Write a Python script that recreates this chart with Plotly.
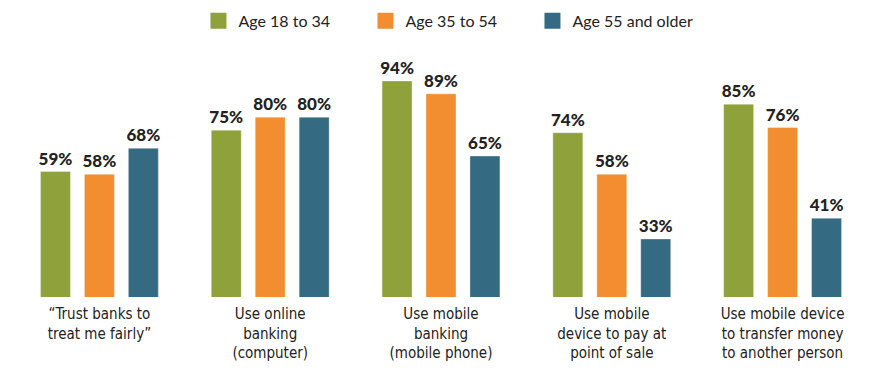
import plotly.graph_objects as go

categories = [
    "\u201cTrust banks to<br>treat me fairly\u201d",
    "Use online<br>banking<br>(computer)",
    "Use mobile<br>banking<br>(mobile phone)",
    "Use mobile<br>device to pay at<br>point of sale",
    "Use mobile device<br>to transfer money<br>to another person",
]
series_names = ["Age 18 to 34", "Age 35 to 54", "Age 55 and older"]
age_18_34 = [59, 75, 94, 74, 85]
age_35_54 = [58, 80, 89, 58, 76]
age_55_plus = [68, 80, 65, 33, 41]
colors = ["#8ea13b", "#f28e2f", "#346a82"]

values = [age_18_34, age_35_54, age_55_plus]

fig = go.Figure()
for name, vals, col in zip(series_names, values, colors):
    fig.add_trace(go.Bar(
        x=categories, y=vals, name=name,
        marker=dict(color=col, line=dict(color="rgba(255,255,255,0.35)", width=1)),
        texttemplate="%{y}%", textposition="outside", constraintext="none",
        textfont=dict(family="Lato", size=17, color="#222222", weight=900),
        cliponaxis=False, showlegend=False,
    ))
# legend entries with square swatches
for name, col in zip(series_names, colors):
    fig.add_trace(go.Scatter(
        x=[None], y=[None], mode="markers", name=name,
        marker=dict(symbol="square", size=20, color=col),
        showlegend=True,
    ))

fig.update_layout(
    width=875, height=375,
    margin=dict(l=13.5, r=6.5, t=55, b=78, autoexpand=False),
    paper_bgcolor="white", plot_bgcolor="white",
    barmode="group", bargap=0.228, bargroupgap=0.318,
    legend=dict(
        orientation="h", x=0.216, xanchor="left",
        yref="container", y=0.99, yanchor="top",
        font=dict(family="Lato", size=16, color="#222222"),
        entrywidth=122, entrywidthmode="pixels",
        itemwidth=30, bgcolor="rgba(0,0,0,0)",
    ),
    xaxis=dict(
        showline=False, showgrid=False, zeroline=False, ticks="",
        tickfont=dict(family="DejaVu Sans Condensed, Roboto", size=15, color="#222222"),
        ticklabelstandoff=6,
    ),
    yaxis=dict(range=[10.6, 104], visible=False, showgrid=False, zeroline=False),
)

fig.write_html("out.html")
